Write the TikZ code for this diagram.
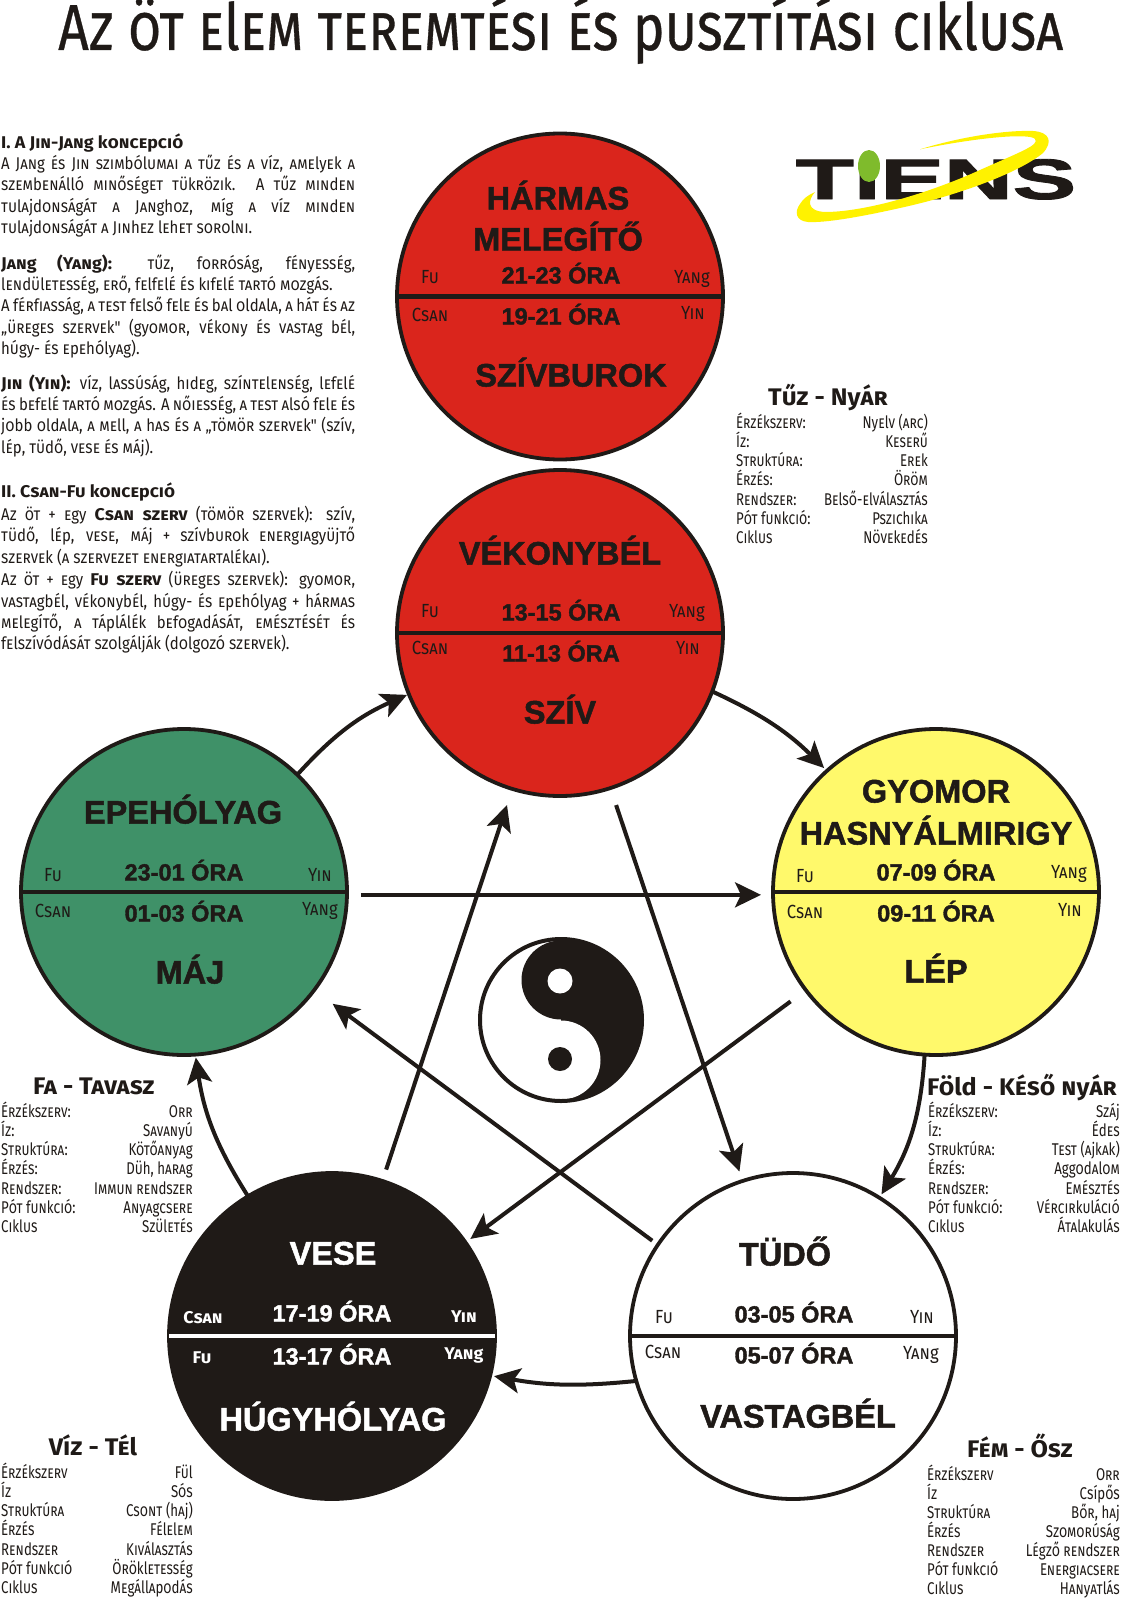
\documentclass[tikz,border=0pt]{standalone}
\usepackage{fontspec}
\usepackage{graphicx}
\usetikzlibrary{arrows.meta}
\setmainfont[BoldFeatures={FakeBold=1.5}]{Liberation Sans}
\newfontfamily\uniS[Letters=SmallCaps,UprightFeatures={FakeStretch=0.88},BoldFeatures={FakeStretch=1.05}]{Fira Sans}
\newfontfamily\uniL[UprightFeatures={FakeStretch=0.88},BoldFeatures={FakeStretch=1.05}]{Fira Sans}
\newfontfamily\uniRS[Letters=SmallCaps,FakeStretch=0.78]{Fira Sans}
\newfontfamily\uniRL[FakeStretch=0.78]{Fira Sans}
\newfontfamily\uniTS[Letters=SmallCaps,FakeBold=0.6]{Fira Sans}
\newfontfamily\uniTL[FakeBold=0.6]{Fira Sans}
\XeTeXcharclass`b=10 \XeTeXcharclass`d=10 \XeTeXcharclass`f=10 \XeTeXcharclass`g=10
\XeTeXcharclass`h=10 \XeTeXcharclass`j=10 \XeTeXcharclass`k=10 \XeTeXcharclass`l=10
\XeTeXcharclass`p=10 \XeTeXcharclass`y=10
\XeTeXinterchartoks 0 10={\uniL}
\XeTeXinterchartoks 10 0={\uniS}
\XeTeXinterchartoks 4095 10={\uniL}
\XeTeXinterchartoks 10 4095={\uniS}
\newcommand\uni{\XeTeXinterchartokenstate=1 \uniS}
\newcommand\unirow{\XeTeXinterchartokenstate=1 \let\uniS\uniRS\let\uniL\uniRL\uniS}
\newcommand\unititle{\XeTeXinterchartokenstate=1 \let\uniS\uniTS\let\uniL\uniTL\uniS}
\definecolor{ink}{HTML}{1F1A17}
\definecolor{firered}{HTML}{DA251C}
\definecolor{woodgreen}{HTML}{3F9168}
\definecolor{earthyellow}{HTML}{FFF96B}
\definecolor{swoosh}{HTML}{FFF200}
\definecolor{leaf}{HTML}{7FBB2C}
\tikzset{
  elem/.style={circle,draw=ink,line width=3.8pt,minimum size=326pt,inner sep=0pt,outer sep=0pt},
  divider/.style={draw=ink,line width=4.5pt},
  bigt/.style={anchor=base,yshift=-11.5pt,inner sep=0pt,text=ink,font=\bfseries\fontsize{32.5}{32}\selectfont},
  hourt/.style={anchor=base,yshift=-8.5pt,inner sep=0pt,text=ink,font=\bfseries\fontsize{23.5}{24}\selectfont},
  sm/.style={anchor=base,yshift=-6pt,inner sep=0pt,text=ink,font=\uni\fontsize{19}{19}\selectfont},
  smw/.style={sm,text=white,font=\uni\bfseries\fontsize{17}{18}\selectfont},
  rowl/.style={anchor=base west,inner sep=0pt,text=ink,font=\unirow\fontsize{17}{19}\selectfont},
  rowr/.style={anchor=base east,inner sep=0pt,text=ink,font=\unirow\fontsize{17}{19}\selectfont},
  ptitle/.style={anchor=base,yshift=-8pt,inner sep=0pt,text=ink,font=\uni\bfseries\fontsize{24}{25}\selectfont},
  para/.style={anchor=north west,inner sep=0pt,text=ink,text width=354pt,align=justify,font=\uni\fontsize{17}{21.4}\selectfont},
  conn/.style={draw=ink,line width=4pt,-{Stealth[length=26pt,width=25pt,inset=6pt]}},
}
\newcommand\infopanel[5]{%
  \foreach \a/\b [count=\i] in {#5}{%
    \pgfmathsetmacro\yy{#4+(\i-1)*19.15+5}
    \node[rowl] (#1l\i) at (#2,\yy) {\a};
    \node[rowr] (#1r\i) at (#3,\yy) {\b};
  }%
}
\begin{document}
\begin{tikzpicture}[x=1pt,y=-1pt]
\useasboundingbox (0,0) rectangle (1128,1600);
\fill[white] (0,0) rectangle (1128,1600);

% title
\node[anchor=base west,inner sep=0pt,text=ink] (title) at (58,50) {\resizebox{1005pt}{\height}{\unititle\fontsize{65}{65}\selectfont Az öt elem teremtési és pusztítási ciklusa}};

% logo
\node[anchor=base,inner sep=0pt,text=ink] (logo) at (936,199) {\fontsize{57}{57}\selectfont\bfseries\scalebox{1.67}[1]{TIENS}};
\fill[swoosh] (920,149.3) .. controls (960,137) and (1005,130) .. (1033,131) .. controls (1050,132) and (1053,142) .. (1043,153) .. controls (1020,172) and (960,195) .. (900,208) .. controls (860,217) and (825,223) .. (808,222) .. controls (796,221) and (794,212) .. (800,204) .. controls (803,199) and (808,195) .. (815,192) .. controls (808,200) and (806,211) .. (825,212) .. controls (860,212) and (920,197) .. (980,170) .. controls (1020,152) and (1040,145) .. (1035,139) .. controls (1030,133) and (980,137) .. (920,149.3) -- cycle;
\fill[leaf] (869,166) ellipse [x radius=11, y radius=16];

% left text
\node[para] (p1) at (1,133) {\strut\textbf{I. A Jin-Jang koncepció}\\
A Jang és Jin szimbólumai a tűz és a víz, amelyek a\linebreak
szembenálló minőséget tükrözik. A tűz minden\linebreak
tulajdonságát a Janghoz, míg a víz minden\linebreak
tulajdonságát a Jinhez lehet sorolni.};
\node[para] (p2) at (1,254) {\strut\textbf{Jang (Yang):} tűz, forróság, fényesség,\linebreak
lendületesség, erő, felfelé és kifelé tartó mozgás.\\
A férfiasság, a test felső fele és bal oldala, a hát és az\linebreak
„üreges szervek" (gyomor, vékony és vastag bél,\linebreak
húgy- és epehólyag).};
\node[para] (p3) at (1,374) {\strut\textbf{Jin (Yin):} víz, lassúság, hideg, színtelenség, lefelé\linebreak
és befelé tartó mozgás. A nőiesség, a test alsó fele és\linebreak
jobb oldala, a mell, a has és a „tömör szervek" (szív,\linebreak
lép, tüdő, vese és máj).};
\node[para] (p4) at (1,482) {\strut\textbf{II. Csan-Fu koncepció}\\[2pt]
Az öt + egy \textbf{Csan szerv} (tömör szervek): szív,\linebreak
tüdő, lép, vese, máj + szívburok energiagyüjtő\linebreak
szervek (a szervezet energiatartalékai).\\[1pt]
Az öt + egy \textbf{Fu szerv} (üreges szervek): gyomor,\linebreak
vastagbél, vékonybél, húgy- és epehólyag + hármas\linebreak
melegítő, a táplálék befogadását, emésztését és\linebreak
felszívódását szolgálják (dolgozó szervek).};

% circles
\node[elem,fill=firered] (har) at (560,296.5) {};
\node[elem,fill=firered] (vek) at (560,633) {};
\node[elem,fill=woodgreen] (epe) at (184,892) {};
\node[elem,fill=earthyellow] (gyo) at (936,892) {};
\node[elem,fill=ink] (ves) at (332,1336) {};
\node[elem,fill=white] (tud) at (793,1336) {};
\draw[divider] (har.west) -- (har.east);
\draw[divider] (vek.west) -- (vek.east);
\draw[divider] (epe.west) -- (epe.east);
\draw[divider] (gyo.west) -- (gyo.east);
\draw[divider,draw=white] (ves.west) -- (ves.east);
\draw[divider] (tud.west) -- (tud.east);

% Harmas melegito / Szivburok
\node[bigt] (har1) at (558,198) {HÁRMAS};
\node[bigt] (har2) at (558,239) {MELEGÍTŐ};
\node[hourt] (har3) at (561,275) {21-23 ÓRA};
\node[hourt] (har4) at (561,316) {19-21 ÓRA};
\node[bigt] (har5) at (571,375) {SZÍVBUROK};
\node[sm] (har6) at (430,277) {Fu};
\node[sm] (har7) at (692,277) {Yang};
\node[sm] (har8) at (430,315) {Csan};
\node[sm] (har9) at (693,313) {Yin};
% Vekonybel / Sziv
\node[bigt] (vek1) at (560,553) {VÉKONYBÉL};
\node[hourt] (vek2) at (561,612) {13-15 ÓRA};
\node[hourt] (vek3) at (561,653) {11-13 ÓRA};
\node[bigt] (vek4) at (560,712) {SZÍV};
\node[sm] (vek5) at (430,611) {Fu};
\node[sm] (vek6) at (687,611) {Yang};
\node[sm] (vek7) at (430,648) {Csan};
\node[sm] (vek8) at (688,648) {Yin};
% Epeholyag / Maj
\node[bigt] (epe1) at (183,812) {EPEHÓLYAG};
\node[hourt] (epe2) at (184,872) {23-01 ÓRA};
\node[hourt] (epe3) at (184,913) {01-03 ÓRA};
\node[bigt] (epe4) at (190,972) {MÁJ};
\node[sm] (epe5) at (53,875) {Fu};
\node[sm] (epe6) at (320,875) {Yin};
\node[sm] (epe7) at (53,911) {Csan};
\node[sm] (epe8) at (320,909) {Yang};
% Gyomor
\node[bigt] (gyo1) at (936,791) {GYOMOR};
\node[bigt] (gyo2) at (936,833) {HASNYÁLMIRIGY};
\node[hourt] (gyo3) at (936,872) {07-09 ÓRA};
\node[hourt] (gyo4) at (936,913) {09-11 ÓRA};
\node[bigt] (gyo5) at (936,971) {LÉP};
\node[sm] (gyo6) at (805,876) {Fu};
\node[sm] (gyo7) at (1069,872) {Yang};
\node[sm] (gyo8) at (805,912) {Csan};
\node[sm] (gyo9) at (1070,910) {Yin};
% Vese
\node[bigt,text=white] (ves1) at (333,1253) {VESE};
\node[hourt,text=white] (ves2) at (332,1313) {17-19 ÓRA};
\node[hourt,text=white] (ves3) at (332,1356) {13-17 ÓRA};
\node[bigt,text=white] (ves4) at (333,1419) {HÚGYHÓLYAG};
\node[smw] (ves5) at (203,1317) {Csan};
\node[smw] (ves6) at (464,1316) {Yin};
\node[smw] (ves7) at (202,1357) {Fu};
\node[smw] (ves8) at (464,1353) {Yang};
% Tudo
\node[bigt] (tud1) at (785,1254) {TÜDŐ};
\node[hourt] (tud2) at (794,1314) {03-05 ÓRA};
\node[hourt] (tud3) at (794,1355) {05-07 ÓRA};
\node[bigt] (tud4) at (798,1416) {VASTAGBÉL};
\node[sm] (tud5) at (664,1317) {Fu};
\node[sm] (tud6) at (922,1317) {Yin};
\node[sm] (tud7) at (663,1352) {Csan};
\node[sm] (tud8) at (921,1353) {Yang};

% outer cycle
\draw[conn,shorten >=2pt] (epe.46) to[bend left=12] (vek.202);
\draw[conn,shorten >=4pt] (vek.-21) to[bend left=10] (gyo.132);
\draw[conn,shorten >=4pt] (gyo.-94) to[bend left=14] (tud.58);
\draw[conn,shorten >=4pt] (tud.196) to[bend left=8] (ves.-14.5);
\draw[conn,shorten >=3pt] (ves.121.5) to[bend left=12] (epe.-86);
% star
\draw[conn,shorten <=14pt,shorten >=12pt] (epe.-1.6) -- (gyo.181.6);
\draw[conn,shorten <=19pt,shorten >=6pt] (gyo.217.6) -- (ves.35.1);
\draw[conn,shorten <=12pt,shorten >=17pt] (ves.72.4) -- (vek.253.2);
\draw[conn,shorten <=18pt,shorten >=10pt] (vek.-72) -- (tud.108.5);
\draw[conn,shorten <=7pt,shorten >=23pt] (tud.146) -- (epe.-37.4);

% yin-yang
\begin{scope}
\clip (561,1020) circle [radius=81];
\fill[ink] (561,930) rectangle (650,1110);
\fill[ink] (561,980) circle [radius=39.5];
\fill[white] (561,1060) circle [radius=39.5];
\fill[white] (560,981) circle [radius=12.5];
\fill[ink] (560,1059) circle [radius=12];
\end{scope}
\draw[ink,line width=4pt] (561,1020) circle [radius=81];

% panels
\node[ptitle] (tuzt) at (828,397) {Tűz - Nyár};
\infopanel{tuz}{736}{928}{423.5}{Érzékszerv:/Nyelv (arc),Íz:/Keserű,Struktúra:/Erek,Érzés:/Öröm,Rendszer:/Belső-elválasztás,Pót funkció:/Pszichika,Ciklus/Növekedés}
\node[ptitle] (fat) at (94,1086) {Fa - Tavasz};
\infopanel{fa}{1}{193}{1112.5}{Érzékszerv:/Orr,Íz:/Savanyú,Struktúra:/Kötőanyag,Érzés:/{Düh, harag},Rendszer:/Immun rendszer,Pót funkció:/Anyagcsere,Ciklus/Születés}
\node[ptitle] (folt) at (1022,1087) {Föld - Késő nyár};
\infopanel{fol}{928}{1120}{1112.5}{Érzékszerv:/Száj,Íz:/Édes,Struktúra:/Test (ajkak),Érzés:/Aggodalom,Rendszer:/Emésztés,Pót funkció:/Vércirkuláció,Ciklus/Átalakulás}
\node[ptitle] (vizt) at (93,1447) {Víz - Tél};
\infopanel{viz}{1}{193}{1473.5}{Érzékszerv/Fül,Íz/Sós,Struktúra/Csont (haj),Érzés/Félelem,Rendszer/Kiválasztás,Pót funkció/Örökletesség,Ciklus/Megállapodás}
\node[ptitle] (femt) at (1020,1449) {Fém - Ősz};
\infopanel{fem}{927}{1120}{1475}{Érzékszerv/Orr,Íz/Csípős,Struktúra/{Bőr, haj},Érzés/Szomorúság,Rendszer/Légző rendszer,Pót funkció/Energiacsere,Ciklus/Hanyatlás}
\end{tikzpicture}
\end{document}
